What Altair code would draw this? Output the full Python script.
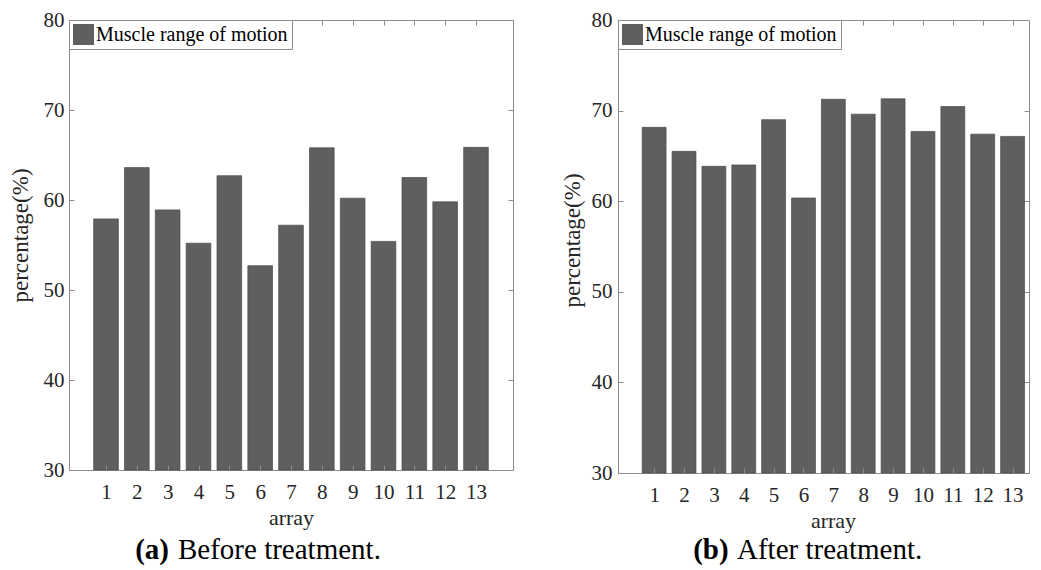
import altair as alt
import pandas as pd

# ---- data ----
arrays = list(range(1, 14))
before = [57.9, 63.6, 58.9, 55.2, 62.7, 52.7, 57.2, 65.8, 60.2, 55.4, 62.5, 59.8, 65.85]
after = [68.15, 65.5, 63.85, 64.0, 69.0, 60.35, 71.25, 69.6, 71.3, 67.7, 70.45, 67.4, 67.15]
y_ticks = [30, 40, 50, 60, 70, 80]
series_name = "Muscle range of motion"
panel_tags = ["(a)", "(b)"]
panel_captions = ["Before treatment.", "After treatment."]
x_title = "array"
y_title = "percentage(%)"

FONT = "Liberation Serif"
BAR = "#5f5f5f"
FRAME = "#8c8c8c"
TXT = "#262626"


def panel(values, xdom, width, height, tp, lp, tag, caption, tag_x, cap_x, cap_y, title_x, title_y):
    df = pd.DataFrame({"array": arrays, "value": values, "series": [series_name] * len(arrays)})
    base = alt.Chart(df).transform_calculate(x1="datum.array - 0.4", x2="datum.array + 0.4")
    xs = alt.Scale(domain=xdom, nice=False, zero=False)
    ys = alt.Scale(domain=[30, 80], nice=False, zero=False)

    bars = base.mark_bar(stroke="#4a4a4a", strokeWidth=0.7).encode(
        x=alt.X("x1:Q", scale=xs, axis=alt.Axis(
            orient="bottom", values=arrays, offset=-5, tickSize=5, domain=False, grid=False,
            labelPadding=11, labelFlush=False, labelOverlap=False, title=x_title,
            titleX=title_x, titlePadding=5, titleFontSize=22, zindex=1)),
        x2="x2:Q",
        y=alt.Y("value:Q", scale=ys, axis=alt.Axis(
            orient="left", values=y_ticks, offset=-5, tickSize=5, domain=False, grid=False,
            labelPadding=lp, labelFlush=False, title=y_title, titlePadding=tp, titleFontSize=23,
            titleY=title_y)),
        y2=alt.datum(30),
        color=alt.Color("series:N", scale=alt.Scale(range=[BAR]), legend=alt.Legend(
            orient="top-left", offset=0, padding=4, strokeColor=FRAME, fillColor="white",
            symbolType="square", symbolSize=441, symbolStrokeWidth=0, labelFont=FONT,
            labelFontSize=20, labelColor="black", labelOffset=2, labelLimit=400, title=None)),
    )

    frame_ticks = base.mark_point(opacity=0).encode(
        x=alt.X("array:Q", scale=xs, axis=alt.Axis(
            orient="top", values=arrays, offset=-5, tickSize=5, domain=False, labels=False,
            grid=False, title=None)),
        y=alt.Y("value:Q", scale=ys, axis=alt.Axis(
            orient="right", values=y_ticks, offset=-5, tickSize=5, domain=False, labels=False,
            grid=False, title=None)),
    )

    cap_df = pd.DataFrame({"tag": [tag], "caption": [caption]})
    tag_text = alt.Chart(cap_df).mark_text(
        font=FONT, fontSize=29, fontWeight="bold", align="right", baseline="alphabetic", color="black"
    ).encode(x=alt.value(tag_x), y=alt.value(cap_y), text="tag:N")
    cap_text = alt.Chart(cap_df).mark_text(
        font=FONT, fontSize=29, align="left", baseline="alphabetic", color="black"
    ).encode(x=alt.value(cap_x), y=alt.value(cap_y), text="caption:N")

    return alt.layer(bars, frame_ticks, tag_text, cap_text).resolve_axis(
        x="independent", y="independent"
    ).properties(width=width, height=height)


left = panel(before, [-0.2, 14.2], 444, 450, 11, 5, panel_tags[0], panel_captions[0],
             100, 109, 539, 222, 215)
right = panel(after, [-0.21, 13.55], 411, 453, 7, 6, panel_tags[1], panel_captions[1],
              110.6, 119, 539, 215, 220)

chart = alt.hconcat(left, right, spacing=46).resolve_scale(color="independent").configure_view(
    stroke=FRAME, strokeWidth=1
).configure_axis(
    labelFont=FONT, titleFont=FONT, labelFontSize=21, labelColor=TXT, titleColor=TXT,
    tickColor=FRAME, titleFontWeight="normal"
).properties(padding={"left": 0, "top": 0, "right": 0, "bottom": 0})

chart.save("out.html", embed_options={"renderer": "svg", "actions": False})
